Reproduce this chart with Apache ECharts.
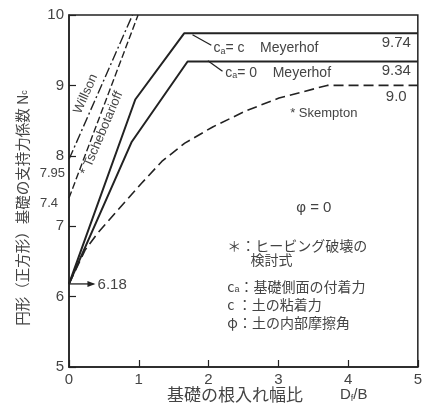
<!DOCTYPE html>
<html>
<head>
<meta charset="utf-8">
<script src="https://cdn.jsdelivr.net/npm/echarts@6/dist/echarts.min.js"></script>
<style>html,body{margin:0;padding:0;background:#fff}#c{width:425px;height:411px}</style>
</head>
<body>
<div id="c"></div>
<script>
// ---- data ----
const meyerhofCaC = [[0,6.18],[0.95,8.8],[1.65,9.74],[5,9.74]];
const meyerhofCa0 = [[0,6.18],[0.9,8.2],[1.7,9.34],[5,9.34]];
const skempton = [[0,6.18],[0.23,6.66],[0.41,6.9],[0.7,7.23],[1.04,7.61],[1.33,7.92],[1.66,8.18],[2.06,8.41],[2.54,8.64],[3.01,8.82],[3.7,9.0],[5,9.0]];
const willson = [[0,7.95],[0.91,10]];
const tschebotarioff = [[0,7.4],[0.99,10]];
const xRange = [0,5];
const yRange = [5,10];

const FONT_JP = '"Noto Sans CJK JP", sans-serif';
const FONT_NUM = '"Liberation Sans", "DejaVu Sans", sans-serif';
const INK = '#222';
const TXT = '#444';

const chart = echarts.init(document.getElementById('c'));
const lineBase = (name, data, type, width) => ({
  name, type: 'line', data, symbol: 'none', silent: true,
  lineStyle: { color: INK, width: width, type: type },
  z: 3
});
chart.setOption({
  animation: false,
  backgroundColor: '#fff',
  grid: { left: 69, right: 5, top: 15, bottom: 44, show: true, borderColor: INK, borderWidth: 1.5 },
  xAxis: {
    type: 'value', min: xRange[0], max: xRange[1], interval: 1,
    axisLine: { lineStyle: { color: INK, width: 1.5 } },
    axisTick: { inside: true, length: 7, lineStyle: { color: INK, width: 1.2 } },
    splitLine: { show: false },
    axisLabel: { color: TXT, fontFamily: FONT_NUM, fontSize: 15, margin: 5 }
  },
  yAxis: {
    type: 'value', min: yRange[0], max: yRange[1], interval: 1,
    axisLine: { lineStyle: { color: INK, width: 1.5 } },
    axisTick: { inside: true, length: 7, lineStyle: { color: INK, width: 1.2 } },
    splitLine: { show: false },
    axisLabel: { color: TXT, fontFamily: FONT_NUM, fontSize: 15, margin: 5 }
  },
  series: [
    lineBase('Meyerhof ca=c', meyerhofCaC, 'solid', 2),
    lineBase('Meyerhof ca=0', meyerhofCa0, 'solid', 2),
    lineBase('Skempton', skempton, [10,5], 1.6),
    lineBase('Willson', willson, [10,3,2,3], 1.4),
    lineBase('Tschebotarioff', tschebotarioff, [7,3], 1.4)
  ]
});

// ---- annotations (anchored in data coordinates) ----
const P = (x, y) => chart.convertToPixel({ gridIndex: 0 }, [x, y]);
const txt = (pt, text, opt) => ({
  type: 'text', x: pt[0], y: pt[1], silent: true,
  style: Object.assign({ text, fill: TXT, font: '14px ' + FONT_JP, textVerticalAlign: 'middle' }, opt || {})
});
const subRich = { s: { fontSize: 9, verticalAlign: 'bottom', padding: [6,0,0,0], fill: TXT } };
const g = [];
// axis names
g.push({ type: 'text', x: 22, y: 208, rotation: Math.PI / 2, silent: true,
  style: { text: '円形（正方形）基礎の支持力係数 N{s|c}', fill: TXT, font: '14.5px ' + FONT_JP,
    textAlign: 'center', textVerticalAlign: 'middle',
    rich: { s: { fontSize: 9, fill: TXT, fontFamily: FONT_NUM, verticalAlign: 'bottom', padding: [6,0,0,0] } } } });
g.push({ type: 'text', x: 167, y: 395, silent: true,
  style: { text: '基礎の根入れ幅比', fill: TXT, font: '17px ' + FONT_JP, textAlign: 'left', textVerticalAlign: 'middle' } });
g.push({ type: 'text', x: 340, y: 395, silent: true,
  style: { text: 'D{s|f}/B', fill: TXT, font: '15px ' + FONT_NUM, textAlign: 'left', textVerticalAlign: 'middle',
    rich: { s: { fontSize: 9, fill: TXT, verticalAlign: 'bottom', padding: [7,0,0,0] } } } });
// leader lines
[[[1.77,9.72],[2.04,9.57]], [[1.99,9.35],[2.2,9.2]]].forEach(seg => {
  const a = P(...seg[0]), b = P(...seg[1]);
  g.push({ type: 'line', silent: true, shape: { x1: a[0], y1: a[1], x2: b[0], y2: b[1] }, style: { stroke: INK, lineWidth: 1.3 } });
});
// 6.18 arrow
{
  const a = P(0, 6.18), b = P(0.35, 6.18);
  g.push({ type: 'line', silent: true, shape: { x1: a[0], y1: a[1], x2: b[0], y2: b[1] }, style: { stroke: INK, lineWidth: 1.3 } });
  g.push({ type: 'polygon', silent: true, shape: { points: [[b[0]+2, b[1]], [b[0]-6, b[1]-3], [b[0]-6, b[1]+3]] }, style: { fill: INK } });
  g.push(txt(P(0.41, 6.16), '6.18', { font: '15px ' + FONT_NUM, textAlign: 'left' }));
}
g.push({ type: 'text', x: P(2.07, 9.53)[0], y: P(2.07, 9.53)[1], silent: true,
  style: { text: 'c{s|a}= c    Meyerhof', fill: TXT, font: '14px ' + FONT_NUM, textVerticalAlign: 'middle', rich: subRich } });
g.push({ type: 'text', x: P(2.24, 9.18)[0], y: P(2.24, 9.18)[1], silent: true,
  style: { text: 'c{s|a}= 0    Meyerhof', fill: TXT, font: '14px ' + FONT_NUM, textVerticalAlign: 'middle', rich: subRich } });
g.push(txt(P(4.9, 9.6), '9.74', { font: '15px ' + FONT_NUM, textAlign: 'right' }));
g.push(txt(P(4.9, 9.2), '9.34', { font: '15px ' + FONT_NUM, textAlign: 'right' }));
g.push(txt(P(4.84, 8.84), '9.0', { font: '15px ' + FONT_NUM, textAlign: 'right' }));
g.push(txt(P(3.17, 8.6), '* Skempton', { font: '13px ' + FONT_NUM, textAlign: 'left' }));
// rotated labels along Willson / Tschebotarioff
{
  const w = P(0.24, 8.88), t = P(0.47, 8.32);
  g.push({ type: 'text', x: w[0], y: w[1], rotation: 66 * Math.PI / 180, silent: true,
    style: { text: 'Willson', fill: TXT, font: '13px ' + FONT_NUM, textAlign: 'center', textVerticalAlign: 'middle' } });
  g.push({ type: 'text', x: t[0], y: t[1], rotation: 67 * Math.PI / 180, silent: true,
    style: { text: '* Tschebotarioff', fill: TXT, font: '13px ' + FONT_NUM, textAlign: 'center', textVerticalAlign: 'middle' } });
}
// left side start values
{
  const a = P(0, 7.95), b = P(0, 7.4);
  g.push(txt([a[0]-4, a[1]+14], '7.95', { font: '13px ' + FONT_NUM, textAlign: 'right' }));
  g.push(txt([b[0]-11, b[1]+5], '7.4', { font: '13px ' + FONT_NUM, textAlign: 'right' }));
}
// phi = 0 and notes
g.push(txt(P(3.51, 7.26), 'φ = 0', { font: '15px ' + FONT_NUM, textAlign: 'center' }));
g.push(txt(P(2.27, 6.73), '＊：ヒービング破壊の', {}));
g.push(txt(P(2.6, 6.52), '検討式', {}));
g.push({ type: 'text', x: P(2.27, 6.14)[0], y: P(2.27, 6.14)[1], silent: true,
  style: { text: 'c{s|a}：基礎側面の付着力', fill: TXT, font: '14px ' + FONT_JP, textVerticalAlign: 'middle', rich: subRich } });
g.push(txt(P(2.27, 5.88), 'c ：土の粘着力', {}));
g.push(txt(P(2.27, 5.63), 'φ：土の内部摩擦角', {}));
chart.setOption({ graphic: g });
</script>
</body>
</html>
